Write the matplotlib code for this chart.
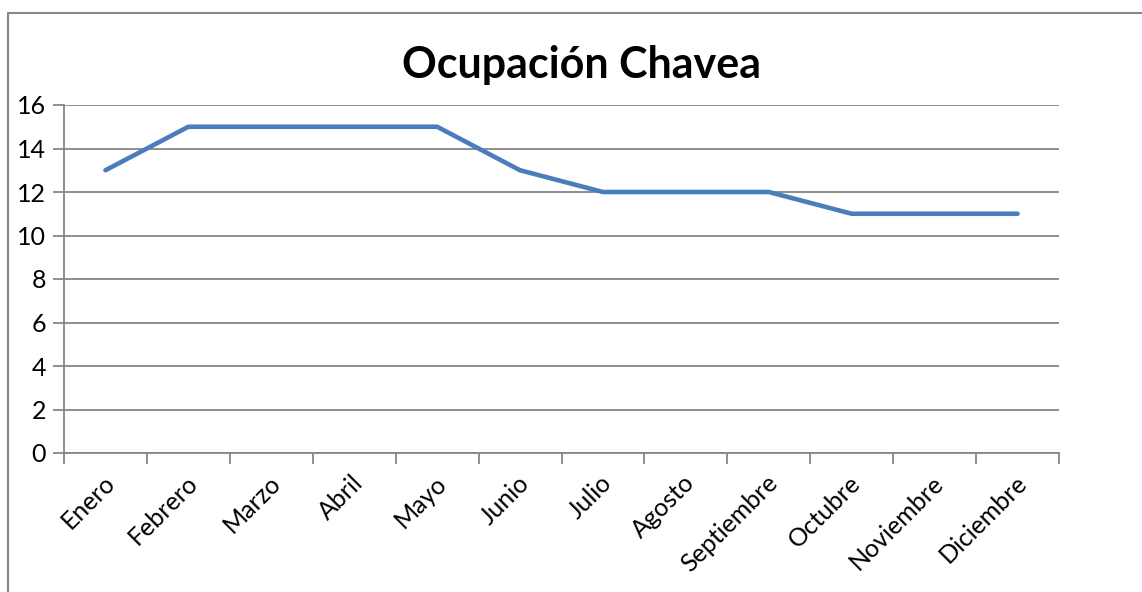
import matplotlib
matplotlib.use("Agg")
from matplotlib import pyplot as plt
from matplotlib.patches import Rectangle

meses = ["Enero", "Febrero", "Marzo", "Abril", "Mayo", "Junio", "Julio",
         "Agosto", "Septiembre", "Octubre", "Noviembre", "Diciembre"]
ocupacion = [13, 15, 15, 15, 15, 13, 12, 12, 12, 11, 11, 11]
yticks = [0, 2, 4, 6, 8, 10, 12, 14, 16]

plt.rcParams['font.family'] = ['Lato', 'DejaVu Sans']
gris = "#868686"

fig = plt.figure(figsize=(11.42, 5.92), dpi=100)
ax = fig.add_axes([64/1142, 1-453/592, (1059-64)/1142, (453-105)/592])

x = list(range(len(meses)))
ax.plot(x, ocupacion, color="#4A7EBB", linewidth=3.3, solid_capstyle="round",
        solid_joinstyle="round", zorder=3)

ax.set_xlim(-0.5, len(meses) - 0.5)
ax.set_ylim(0, 16)
ax.set_yticks(yticks)
ax.yaxis.grid(True, color=gris, linewidth=1.3)
ax.set_axisbelow(True)
ax.tick_params(axis="y", length=8, width=1.3, color=gris, labelsize=18, pad=5)

# category boundary ticks on x
ax.set_xticks([i - 0.5 for i in range(len(meses) + 1)])
ax.set_xticklabels([])
ax.tick_params(axis="x", length=8, width=1.3, color=gris)
for i, m in enumerate(meses):
    ax.annotate(m, xy=(i, 0), xycoords=("data", "axes fraction"),
                xytext=(-2, -13), textcoords="offset points",
                rotation=45, ha="right", va="top", rotation_mode="anchor",
                fontsize=18)

for s in ["top", "right"]:
    ax.spines[s].set_visible(False)
for s in ["left", "bottom"]:
    ax.spines[s].set_color(gris)
    ax.spines[s].set_linewidth(1.3)

fig.text(581/1142, 1-65/592, "Ocupación Chavea", ha="center", va="center",
         fontsize=31, fontweight="bold")

fig.patches.append(Rectangle((8/1142, -0.1), 1.2, 1-13/592+0.1,
                             transform=fig.transFigure, fill=False,
                             edgecolor=gris, linewidth=1.5))

fig.savefig("out.png", dpi=100)
